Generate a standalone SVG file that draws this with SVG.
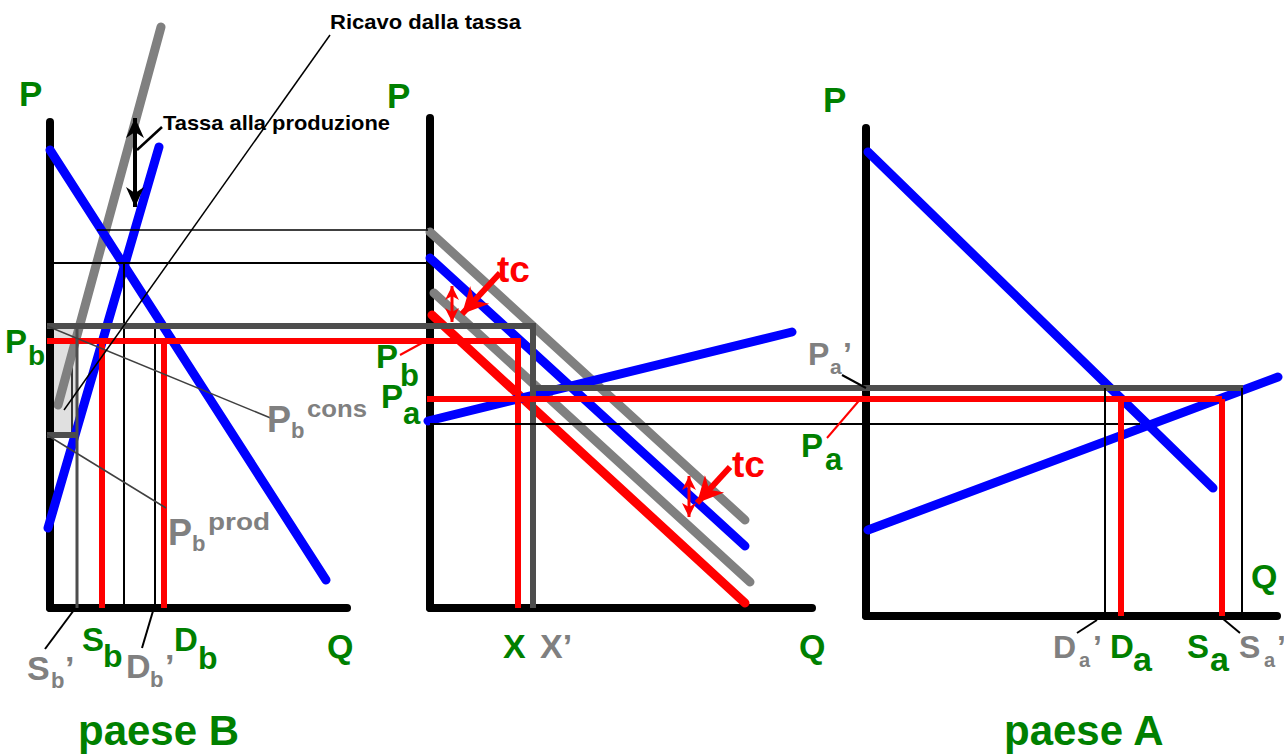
<svg xmlns="http://www.w3.org/2000/svg" width="1284" height="754" viewBox="0 0 1284 754">
<style>
.ax{stroke:#000;stroke-width:8;stroke-linecap:round;fill:none}
.bl{stroke:#0000ff;stroke-width:9;stroke-linecap:round;fill:none}
.gr{stroke:#808080;stroke-width:9;stroke-linecap:round;fill:none}
.rd{stroke:#ff0000;stroke-width:6;fill:none}
.dg{stroke:#4d4d4d;stroke-width:6;fill:none}
.dgt{stroke:#4d4d4d;stroke-width:3;fill:none}
.th{stroke:#000;stroke-width:2;fill:none}
.th1{stroke:#000;stroke-width:1.5;fill:none}
.ld{stroke:#404040;stroke-width:1.5;fill:none}
.ldr{stroke:#ff0000;stroke-width:2;fill:none}
.g{font-family:"Liberation Sans",Arial,sans-serif;font-weight:bold;fill:#008000}
.y{font-family:"Liberation Sans",Arial,sans-serif;font-weight:bold;fill:#808080}
.k{font-family:"Liberation Sans",Arial,sans-serif;font-weight:bold;fill:#000}
.r{font-family:"Liberation Sans",Arial,sans-serif;font-weight:bold;fill:#ff0000}
</style>
<defs>
<marker id="hk" markerUnits="userSpaceOnUse" markerWidth="24" markerHeight="24" viewBox="0 0 24 24" refX="20" refY="12" orient="auto-start-reverse">
<path d="M0,3 L20,12 L0,21 L6,12 Z" fill="#000"/>
</marker>
<marker id="hr" markerUnits="userSpaceOnUse" markerWidth="16" markerHeight="16" viewBox="0 0 16 16" refX="14" refY="8" orient="auto-start-reverse">
<path d="M0,1 L14,8 L0,15 L4,8 Z" fill="#ff0000"/>
</marker>
<marker id="hrb" markerUnits="userSpaceOnUse" markerWidth="30" markerHeight="30" viewBox="0 0 30 30" refX="26" refY="15" orient="auto">
<path d="M0,2 L26,15 L0,28 L8,15 Z" fill="#ff0000"/>
</marker>
</defs>

<g id="panel-B">
<rect x="54" y="327" width="22" height="108" fill="#e0e0e0"/>
<line class="th1" x1="72" y1="355" x2="72" y2="432"/>
<line class="gr" x1="161" y1="27" x2="58" y2="405"/>
<line class="ax" x1="50" y1="122" x2="50" y2="608"/>
<line class="ax" x1="50" y1="608" x2="347" y2="608"/>
<line class="bl" x1="50" y1="150" x2="326" y2="580"/>
<line class="bl" x1="48" y1="528" x2="159" y2="147"/>
</g>

<g id="panel-mid">
<line class="ax" x1="430" y1="118" x2="430" y2="608"/>
<line class="ax" x1="430" y1="608" x2="812" y2="608"/>
<line class="gr" x1="430" y1="232" x2="745" y2="520"/>
<line class="bl" x1="430" y1="258" x2="745" y2="546"/>
<line class="gr" x1="434" y1="293" x2="750" y2="582"/>
<line stroke="#ff0000" stroke-width="9" stroke-linecap="round" x1="432" y1="315" x2="745" y2="603"/>
<line class="bl" x1="428" y1="421" x2="792" y2="332"/>
</g>

<g id="panel-A">
<line class="ax" x1="866" y1="128" x2="866" y2="616"/>
<line class="ax" x1="866" y1="616" x2="1277" y2="616"/>
<line class="bl" x1="868" y1="152" x2="1213" y2="488"/>
<line class="bl" x1="868" y1="530" x2="1278" y2="377"/>
</g>

<g id="connectors">
<line class="th1" x1="97" y1="230" x2="428" y2="230"/>
<line class="th" x1="54" y1="263" x2="428" y2="263"/>
<line class="th" x1="124" y1="263" x2="124" y2="608"/>
<line class="th" x1="155" y1="326" x2="155" y2="608"/>
<line class="rd" x1="47" y1="341" x2="521" y2="341"/>
<line class="rd" x1="102" y1="341" x2="102" y2="608"/>
<line class="rd" x1="164" y1="341" x2="164" y2="608"/>
<line class="rd" x1="518" y1="341" x2="518" y2="608"/>
<path class="dg" d="M47,326 H533 V608"/>
<line class="dg" x1="47" y1="435" x2="78" y2="435"/>
<line class="dgt" x1="77" y1="326" x2="77" y2="608"/>
<line class="th" x1="430" y1="424" x2="1140" y2="424"/>
<line class="rd" x1="427" y1="399" x2="1222" y2="399"/>
<line class="rd" x1="1121" y1="399" x2="1121" y2="616"/>
<line class="rd" x1="1222" y1="399" x2="1222" y2="616"/>
<line class="dg" x1="533" y1="388" x2="1243" y2="388"/>
<line class="th" x1="1105" y1="388" x2="1105" y2="616"/>
<line class="th" x1="1242" y1="388" x2="1242" y2="616"/>
<line class="ld" x1="47" y1="326" x2="273" y2="419"/>
<line class="ld" x1="47" y1="435" x2="166" y2="508"/>
<line class="th1" x1="330" y1="35" x2="64" y2="410"/>
<line stroke="#000" stroke-width="4" x1="135" y1="118" x2="135" y2="207" marker-start="url(#hk)" marker-end="url(#hk)"/>
<line stroke="#000" stroke-width="2.5" x1="162" y1="127" x2="137" y2="150"/>
<line stroke="#ff0000" stroke-width="3" x1="452" y1="286" x2="452" y2="322" marker-start="url(#hr)" marker-end="url(#hr)"/>
<line stroke="#ff0000" stroke-width="6" x1="500" y1="273" x2="462" y2="314" marker-end="url(#hrb)"/>
<line stroke="#ff0000" stroke-width="3" x1="689" y1="476" x2="689" y2="517" marker-start="url(#hr)" marker-end="url(#hr)"/>
<line stroke="#ff0000" stroke-width="6" x1="730" y1="467" x2="697" y2="503" marker-end="url(#hrb)"/>
<line class="ldr" x1="400" y1="355" x2="422" y2="343"/>
<line class="ldr" x1="827" y1="438" x2="863" y2="396"/>
<line stroke="#000" stroke-width="2" x1="842" y1="375" x2="866" y2="388"/>
<line stroke="#000" stroke-width="2" x1="45" y1="649" x2="74" y2="610"/>
<line stroke="#000" stroke-width="2" x1="142" y1="648" x2="153" y2="611"/>
<line stroke="#000" stroke-width="2" x1="1077" y1="633" x2="1097" y2="620"/>
<line stroke="#000" stroke-width="2" x1="1222" y1="618" x2="1240" y2="633"/>
</g>

<g id="labels">
<text class="k" x="330" y="29" font-size="21" textLength="191" lengthAdjust="spacingAndGlyphs">Ricavo dalla tassa</text>
<text class="k" x="163" y="130" font-size="21" textLength="227" lengthAdjust="spacingAndGlyphs">Tassa alla produzione</text>
<text class="g" x="19" y="106" font-size="35">P</text>
<text class="g" x="387" y="108" font-size="35">P</text>
<text class="g" x="823" y="112" font-size="35">P</text>
<text class="g" x="327" y="658" font-size="34">Q</text>
<text class="g" x="799" y="658" font-size="34">Q</text>
<text class="g" x="1251" y="588" font-size="34">Q</text>
<text class="g" x="5" y="353" font-size="33">P</text>
<text class="g" x="28" y="365" font-size="28">b</text>
<text class="g" x="376" y="368" font-size="33">P</text>
<text class="g" x="400" y="386" font-size="31">b</text>
<text class="g" x="381" y="408" font-size="33">P</text>
<text class="g" x="403" y="424" font-size="31">a</text>
<text class="g" x="801" y="457" font-size="33">P</text>
<text class="g" x="825" y="470" font-size="31">a</text>
<text class="y" x="808" y="365" font-size="32">P</text>
<text class="y" x="830" y="374" font-size="21">a</text>
<text class="y" x="843" y="365" font-size="32">’</text>
<text class="y" x="267" y="432" font-size="36">P</text>
<text class="y" x="291" y="438" font-size="22">b</text>
<text class="y" x="307" y="417" font-size="24" textLength="60" lengthAdjust="spacingAndGlyphs">cons</text>
<text class="y" x="168" y="545" font-size="36">P</text>
<text class="y" x="192" y="551" font-size="22">b</text>
<text class="y" x="208" y="530" font-size="24" textLength="62" lengthAdjust="spacingAndGlyphs">prod</text>
<text class="y" x="27" y="680" font-size="34">S</text>
<text class="y" x="51" y="688" font-size="22">b</text>
<text class="y" x="65" y="680" font-size="34">’</text>
<text class="g" x="82" y="651" font-size="33">S</text>
<text class="g" x="103" y="667" font-size="32">b</text>
<text class="y" x="126" y="678" font-size="34">D</text>
<text class="y" x="150" y="687" font-size="22">b</text>
<text class="y" x="165" y="678" font-size="34">’</text>
<text class="g" x="174" y="651" font-size="33">D</text>
<text class="g" x="198" y="669" font-size="32">b</text>
<text class="g" x="503" y="658" font-size="34">X</text>
<text class="y" x="540" y="658" font-size="34">X’</text>
<text class="y" x="1053" y="658" font-size="32">D</text>
<text class="y" x="1079" y="667" font-size="20">a</text>
<text class="y" x="1093" y="658" font-size="32">’</text>
<text class="g" x="1110" y="658" font-size="33">D</text>
<text class="g" x="1133" y="671" font-size="34">a</text>
<text class="g" x="1187" y="658" font-size="33">S</text>
<text class="g" x="1210" y="671" font-size="34">a</text>
<text class="y" x="1239" y="658" font-size="32">S</text>
<text class="y" x="1264" y="667" font-size="20">a</text>
<text class="y" x="1277" y="658" font-size="32">’</text>
<text class="r" x="497" y="282" font-size="37">tc</text>
<text class="r" x="732" y="477" font-size="37">tc</text>
<text class="g" x="78" y="745" font-size="42">paese B</text>
<text class="g" x="1004" y="745" font-size="42">paese A</text>
</g>
</svg>
